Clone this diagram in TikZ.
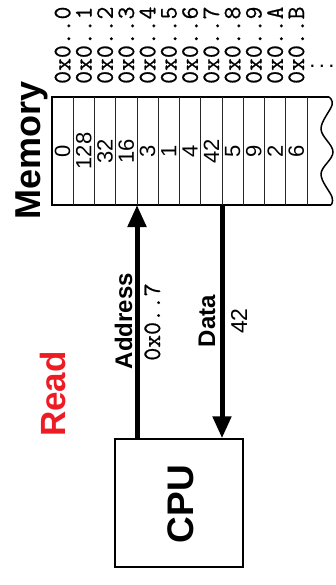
\documentclass[tikz,border=0pt]{standalone}
\usepackage{fontspec}
\setsansfont{Liberation Sans}
\newfontfamily\monoheavy[FakeBold=0.7]{Latin Modern Mono}
\usetikzlibrary{arrows.meta}
\definecolor{readred}{RGB}{237,28,36}
\begin{document}
\begin{tikzpicture}[x=1pt,y=-1pt,
  bigbold/.style={font=\sffamily\bfseries\fontsize{36}{40}\selectfont, rotate=90, anchor=base, inner sep=0pt},
  midbold/.style={font=\sffamily\bfseries\fontsize{24}{28}\selectfont, rotate=90, anchor=base, inner sep=0pt},
  midval/.style={font=\sffamily\fontsize{23}{26}\selectfont, rotate=90, anchor=base, inner sep=0pt},
  monolbl/.style={font=\monoheavy\fontsize{25}{28}\selectfont, rotate=90, inner sep=0pt},
  cellval/.style={font=\sffamily\fontsize{22}{26}\selectfont, rotate=90, inner sep=0pt},
  border/.style={line width=1.5pt},
  sep/.style={line width=0.9pt, black!85},
  bus/.style={line width=5pt, -{Triangle[length=22pt,width=18pt]}},
]
\useasboundingbox (0,0) rectangle (336,585);

% memory frame
\draw[border] (329,97) -- (52,97) -- (52,205) -- (331,205);
\draw[border] plot[smooth, tension=0.6] coordinates {(329,97) (332,105) (321,129) (333,152) (321,174) (332,197) (331,205)};

% cell separators
\foreach \k in {1,...,12} {
  \coordinate (mb\k) at ({52+21.25*\k},205);
  \draw[sep] ({52+21.25*\k},97) -- (mb\k);
}

% cell values and addresses
\foreach \v [count=\i from 0] in {0,128,32,16,3,1,4,42,5,9,2,6} {
  \node[cellval] (val\i) at ({52+21.25*(\i+0.5)},151) {\v};
}
\foreach \a [count=\i from 0] in {0,1,2,3,4,5,6,7,8,9,A,B} {
  \node[monolbl, anchor=west] (adr\i) at ({52+21.25*(\i+0.5)},84) {0x0..\a};
}
\node[font=\sffamily\fontsize{22}{26}\selectfont, inner sep=0pt, anchor=base] (more) at (322,67.5) {.\kern3.4pt.\kern3.4pt.};

% labels
\node[bigbold] (memlbl) at (40,150) {Memory};
\node[bigbold, text=readred, font=\sffamily\bfseries\fontsize{35}{40}\selectfont] (readlbl) at (65,394) {Read};

% CPU
\node[draw, line width=1.5pt, minimum width=128pt, minimum height=128pt, inner sep=0pt] (cpu) at (179,503) {};
\node[bigbold, font=\sffamily\bfseries\fontsize{37}{40}\selectfont] (cputxt) at (193,504) {CPU};

% buses
\draw[bus] (cpu.north -| mb4) -- (mb4);
\draw[bus] (mb8) -- (cpu.north -| mb8);

\node[midbold] (addrlbl) at (132,321) {Address};
\node[monolbl, anchor=base] (addrval) at (160,322) {0x0..7};
\node[midbold] (datalbl) at (215,321) {Data};
\node[midval] (dataval) at (247,321) {42};
\end{tikzpicture}
\end{document}
